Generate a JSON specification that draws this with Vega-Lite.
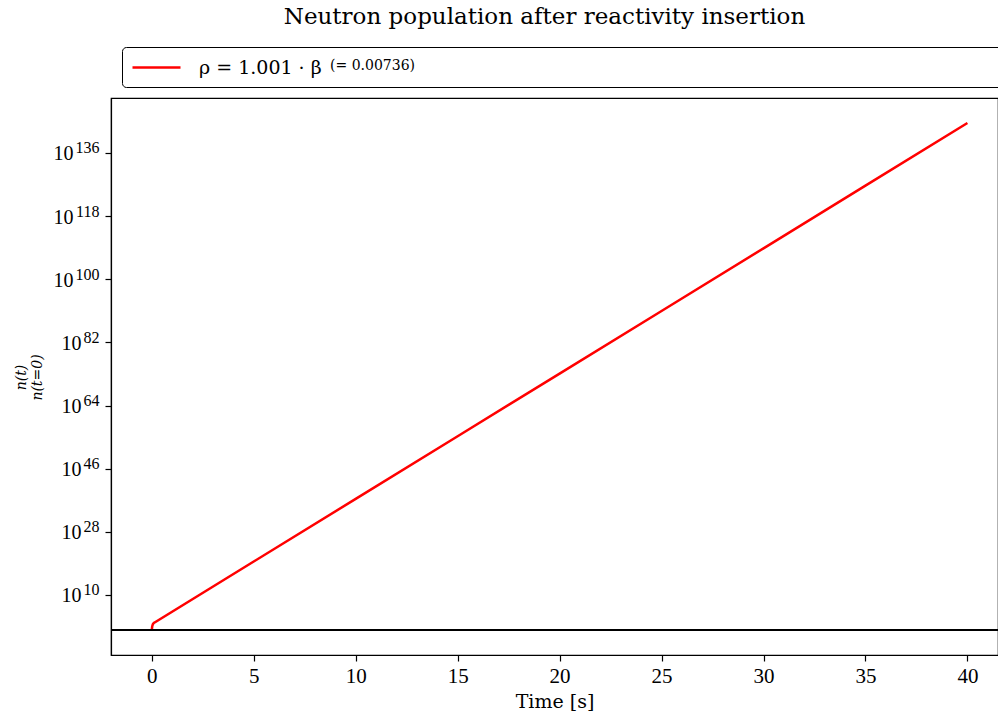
{
  "$schema": "https://vega.github.io/schema/vega-lite/v6.json",
  "autosize": {"type": "none"},
  "padding": {"left": 111, "top": 98, "right": 0, "bottom": 65},
  "width": 887,
  "height": 557,
  "background": "white",
  "title": {
    "text": "Neutron population after reactivity insertion",
    "font": "DejaVu Serif",
    "fontSize": 23,
    "fontWeight": "normal",
    "color": "black",
    "anchor": "middle",
    "frame": "group",
    "dx": -10,
    "offset": 18
  },
  "config": {
    "view": {"stroke": "black", "strokeWidth": 1.2},
    "axis": {
      "domainColor": "black",
      "domainWidth": 1.2,
      "tickColor": "black",
      "tickWidth": 1.2,
      "tickSize": 6,
      "labelColor": "black",
      "titleColor": "black",
      "labelFont": "Liberation Serif",
      "titleFont": "DejaVu Serif",
      "titleFontWeight": "normal",
      "grid": false
    }
  },
  "layer": [
    {
      "data": {
        "values": [
          {"t": 0, "n": 1, "series": "ρ = 1.001 · β"},
          {"t": 0.02, "n": 10, "series": "ρ = 1.001 · β"},
          {"t": 0.05, "n": 40, "series": "ρ = 1.001 · β"},
          {"t": 0.1, "n": 100, "series": "ρ = 1.001 · β"},
          {"t": 0.2, "n": 234, "series": "ρ = 1.001 · β"},
          {"t": 5, "n": 3.3e19, "series": "ρ = 1.001 · β"},
          {"t": 10, "n": 2.4e37, "series": "ρ = 1.001 · β"},
          {"t": 15, "n": 1.74e55, "series": "ρ = 1.001 · β"},
          {"t": 20, "n": 1.26e73, "series": "ρ = 1.001 · β"},
          {"t": 25, "n": 9.1e90, "series": "ρ = 1.001 · β"},
          {"t": 30, "n": 6.6e108, "series": "ρ = 1.001 · β"},
          {"t": 35, "n": 4.8e126, "series": "ρ = 1.001 · β"},
          {"t": 40, "n": 3.5e144, "series": "ρ = 1.001 · β"}
        ]
      },
      "mark": {"type": "line", "strokeWidth": 2.5, "clip": true},
      "encoding": {
        "x": {
          "field": "t",
          "type": "quantitative",
          "scale": {"domain": [-2, 41.5], "nice": false, "zero": false},
          "axis": {
            "values": [0, 5, 10, 15, 20, 25, 30, 35, 40],
            "title": "Time [s]",
            "labelFontSize": 21,
            "labelPadding": 4,
            "titleFontSize": 19,
            "titlePadding": 6
          }
        },
        "y": {
          "field": "n",
          "type": "quantitative",
          "scale": {"type": "log", "domain": [7.4e-8, 4.8e151], "nice": false},
          "axis": {
            "orient": "left",
            "values": [1e10, 1e28, 1e46, 1e64, 1e82, 1e100, 1e118, 1e136],
            "labelExpr": "'10'",
            "labelFontSize": 20,
            "labelPadding": {"condition": {"test": "datum.value > 1e99", "value": 32}, "value": 24},
            "labelBaseline": "middle",
            "labelOffset": 1,
            "title": ["n(t)", "n(t=0)"],
            "titleFontSize": 14,
            "titleFontStyle": "italic",
            "titleLineHeight": 16,
            "titleX": -90,
            "titleY": 279,
            "titleAlign": "center",
            "titleBaseline": "middle",
            "titleAngle": -90
          }
        },
        "color": {
          "field": "series",
          "type": "nominal",
          "scale": {"range": ["#ff0000"]},
          "legend": {
            "orient": "none",
            "legendX": 11,
            "legendY": -51,
            "direction": "horizontal",
            "strokeColor": "black",
            "cornerRadius": 4,
            "padding": 9,
            "fillColor": "white",
            "symbolType": "M-1,0H3.8",
            "symbolSize": 400,
            "symbolStrokeWidth": 2.5,
            "labelFont": "DejaVu Serif",
            "labelFontSize": 19,
            "labelColor": "black",
            "labelOffset": 45,
            "labelLimit": 400,
            "title": "(= 0.00736)\u00a0\u00a0\u00a0\u00a0\u00a0\u00a0\u00a0\u00a0\u00a0\u00a0\u00a0\u00a0\u00a0\u00a0\u00a0\u00a0\u00a0\u00a0\u00a0\u00a0\u00a0\u00a0\u00a0\u00a0\u00a0\u00a0\u00a0\u00a0\u00a0\u00a0\u00a0\u00a0\u00a0\u00a0\u00a0\u00a0\u00a0\u00a0\u00a0\u00a0\u00a0\u00a0\u00a0\u00a0\u00a0\u00a0\u00a0\u00a0\u00a0\u00a0\u00a0\u00a0\u00a0\u00a0\u00a0\u00a0\u00a0\u00a0\u00a0\u00a0\u00a0\u00a0\u00a0\u00a0\u00a0\u00a0\u00a0\u00a0\u00a0\u00a0\u00a0\u00a0\u00a0\u00a0\u00a0\u00a0\u00a0\u00a0\u00a0\u00a0\u00a0\u00a0\u00a0\u00a0\u00a0\u00a0\u00a0\u00a0\u00a0\u00a0\u00a0\u00a0\u00a0\u00a0\u00a0\u00a0\u00a0\u00a0\u00a0\u00a0\u00a0\u00a0\u00a0\u00a0\u00a0\u00a0\u00a0\u00a0\u00a0\u00a0\u00a0\u00a0\u00a0\u00a0\u00a0\u00a0\u00a0\u00a0\u00a0\u00a0\u00a0\u00a0\u00a0\u00a0\u00a0\u00a0\u00a0\u00a0\u00a0\u00a0\u200b",
            "titleOrient": "right",
            "titleFont": "DejaVu Serif",
            "titleFontSize": 14,
            "titleFontWeight": "normal",
            "titleColor": "black",
            "titlePadding": 8,
            "titleLimit": 2000,
            "titleAnchor": "start",
            "titleBaseline": "line-top",
            "titleLineHeight": 20
          }
        }
      }
    },
    {
      "data": {"values": [{"level": 1}]},
      "mark": {"type": "rule", "color": "black", "strokeWidth": 2},
      "encoding": {
        "y": {
          "field": "level",
          "type": "quantitative",
          "scale": {"type": "log", "domain": [7.4e-8, 4.8e151], "nice": false},
          "axis": {
            "orient": "left",
            "values": [1e10, 1e28, 1e46, 1e64, 1e82, 1e100, 1e118, 1e136],
            "labelExpr": "'' + round(log(datum.value) / LN10)",
            "labelFont": "Liberation Serif",
            "labelFontSize": 16,
            "labelPadding": 12,
            "labelAlign": "right",
            "labelBaseline": "middle",
            "labelOffset": -5,
            "ticks": false,
            "domain": false,
            "title": null
          }
        }
      }
    }
  ],
  "resolve": {"axis": {"y": "independent"}}
}
